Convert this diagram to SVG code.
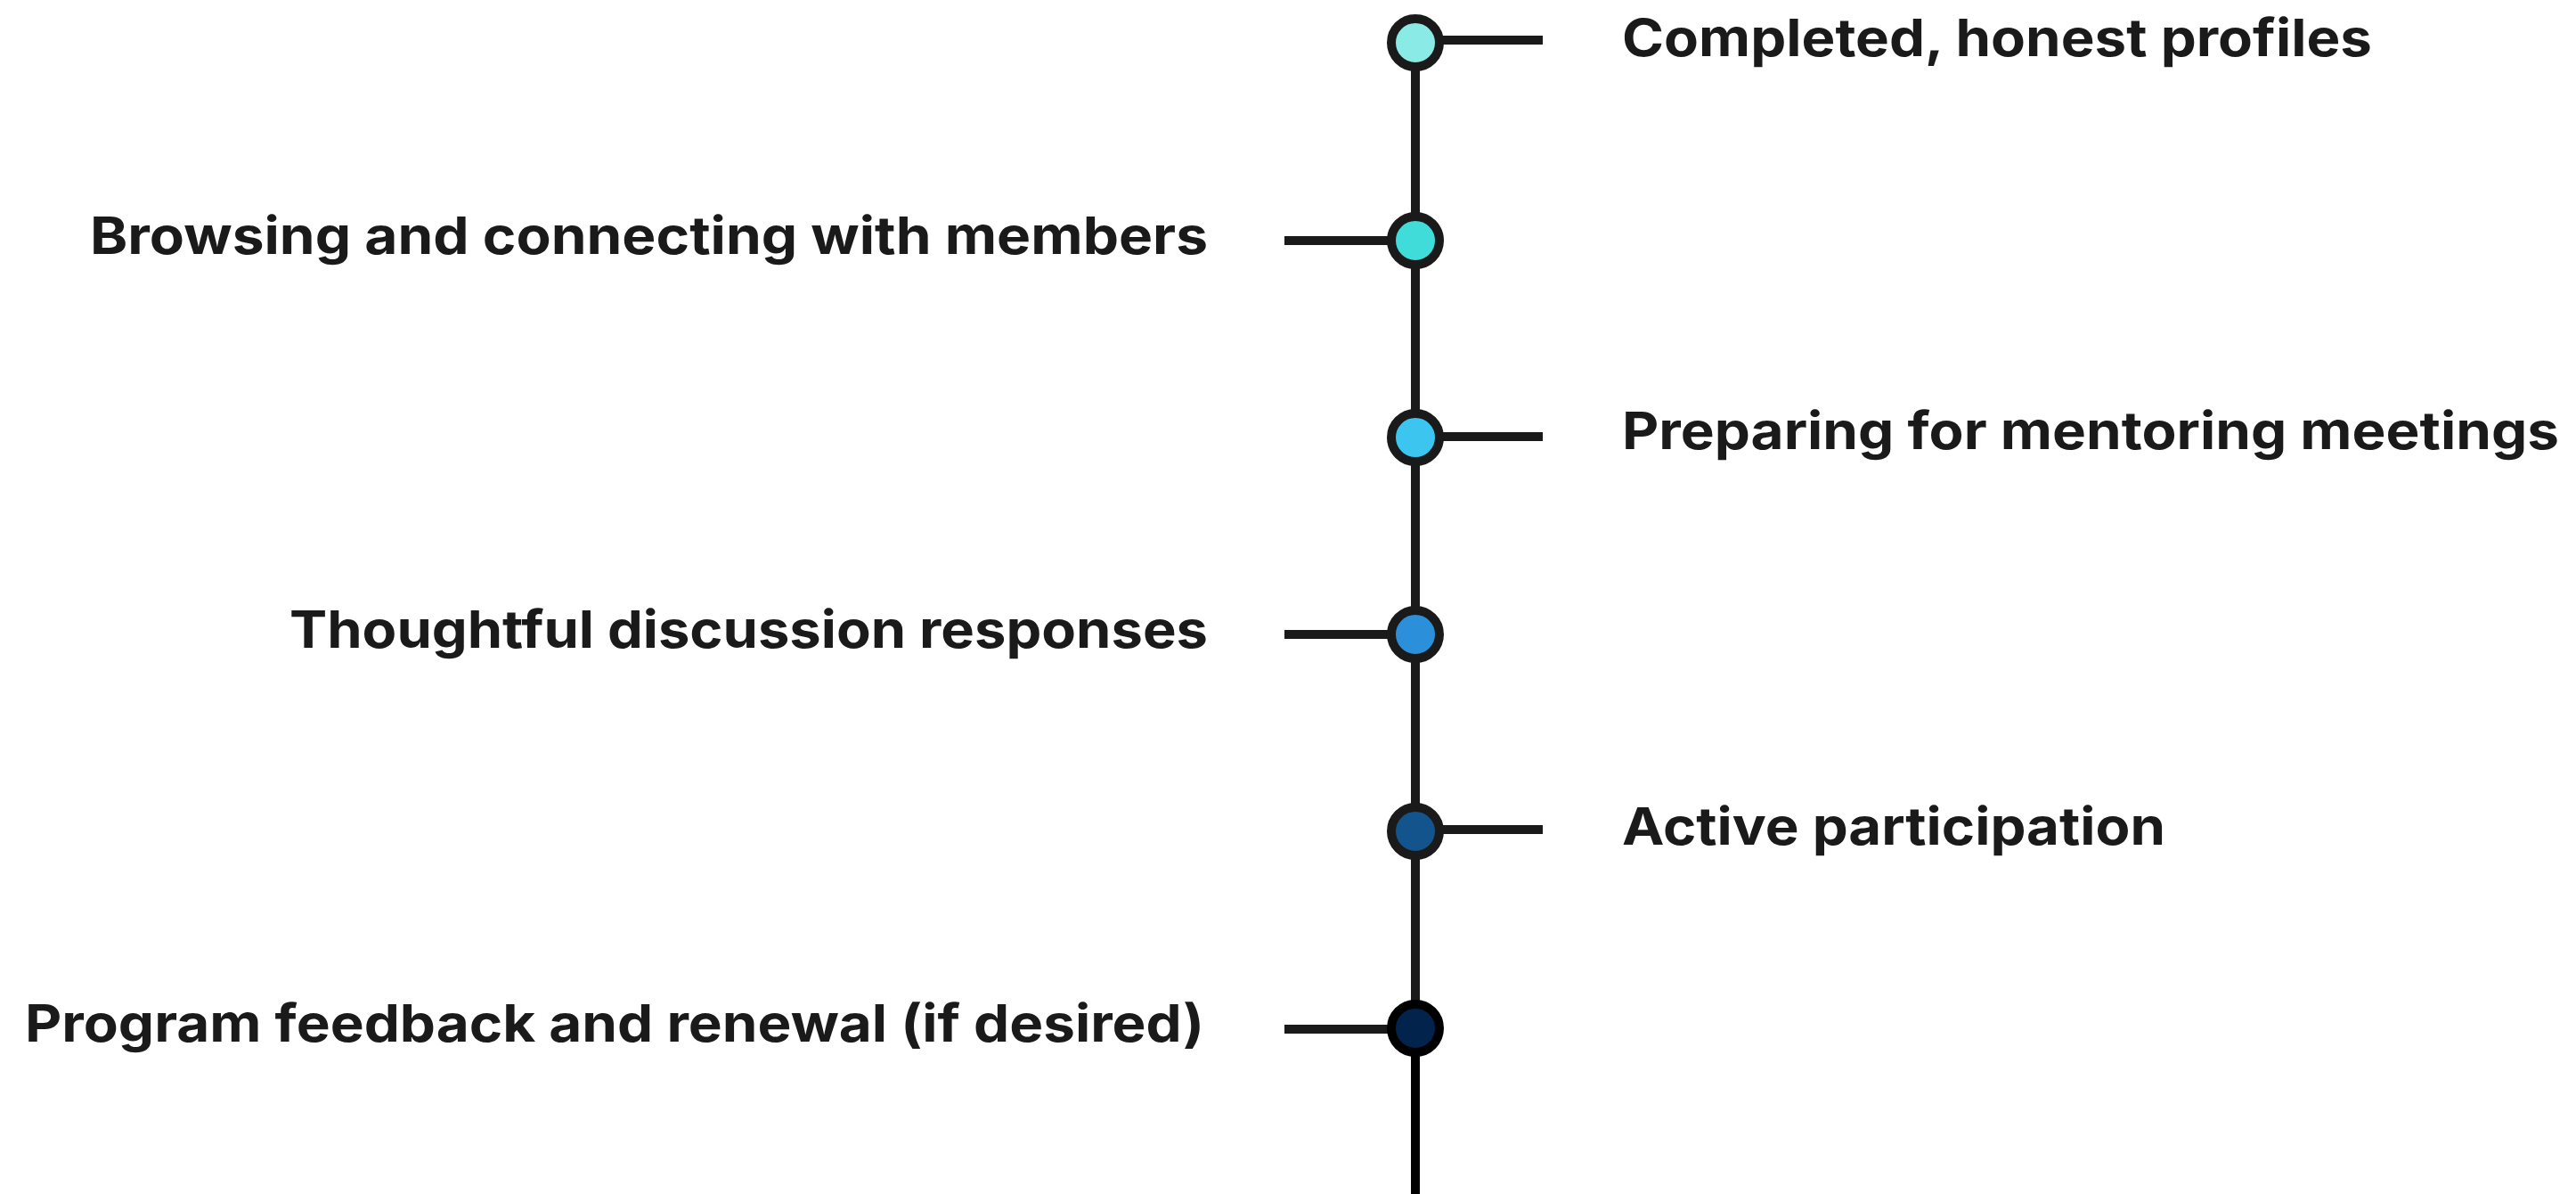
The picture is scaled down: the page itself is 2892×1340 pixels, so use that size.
<svg xmlns="http://www.w3.org/2000/svg" width="2892" height="1340" viewBox="0 0 2892 1340">
<style>
.ln{stroke:#1a1a1a;stroke-width:10;fill:none}
.nd{stroke:#1a1a1a;stroke-width:10}
.lb{font-family:Inter,"Open Sans","Liberation Sans",sans-serif;font-weight:700;font-size:58px;fill:#1a1a1a}
.r{text-anchor:start}
.l{text-anchor:end}
</style>
<rect width="2892" height="1340" fill="#ffffff"/>
<g id="connectors">
<line class="ln" x1="1589" y1="48" x2="1589" y2="1154"/>
<line class="ln" x1="1589" y1="1154" x2="1589" y2="1340" style="stroke:#000"/>
<line class="ln" x1="1589" y1="45" x2="1732" y2="45"/>
<line class="ln" x1="1442" y1="270" x2="1589" y2="270"/>
<line class="ln" x1="1589" y1="490" x2="1732" y2="490"/>
<line class="ln" x1="1442" y1="712" x2="1589" y2="712"/>
<line class="ln" x1="1589" y1="931" x2="1732" y2="931"/>
<line class="ln" x1="1442" y1="1155" x2="1589" y2="1155"/>
</g>
<g id="node1"><circle class="nd" cx="1589" cy="48" r="27" fill="#8aeae6"/><text class="lb r" x="1821" y="63" textLength="842" lengthAdjust="spacingAndGlyphs">Completed, honest profiles</text></g>
<g id="node2"><circle class="nd" cx="1589" cy="270" r="27" fill="#3fdcd9"/><text class="lb l" x="1356" y="285" textLength="1255" lengthAdjust="spacingAndGlyphs">Browsing and connecting with members</text></g>
<g id="node3"><circle class="nd" cx="1589" cy="491" r="27" fill="#3cc6ef"/><text class="lb r" x="1821" y="504" textLength="1052" lengthAdjust="spacingAndGlyphs">Preparing for mentoring meetings</text></g>
<g id="node4"><circle class="nd" cx="1589" cy="712" r="27" fill="#2b90d9"/><text class="lb l" x="1356" y="727" textLength="1031" lengthAdjust="spacingAndGlyphs">Thoughtful discussion responses</text></g>
<g id="node5"><circle class="nd" cx="1589" cy="933" r="27" fill="#13548c"/><text class="lb r" x="1821" y="948" textLength="610" lengthAdjust="spacingAndGlyphs">Active participation</text></g>
<g id="node6"><circle class="nd" cx="1589" cy="1154" r="27" fill="#02244c" style="stroke:#000"/><text class="lb l" x="1352" y="1169" textLength="1324" lengthAdjust="spacingAndGlyphs">Program feedback and renewal (if desired)</text></g>
</svg>
